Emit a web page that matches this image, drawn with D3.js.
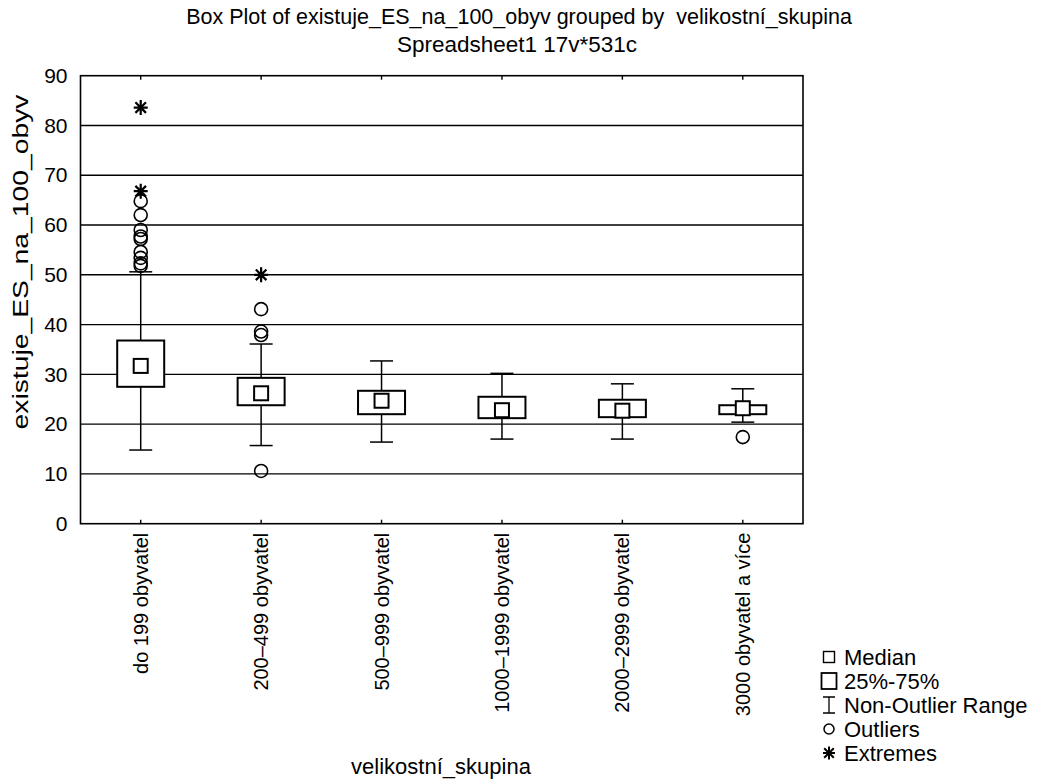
<!DOCTYPE html>
<html><head><meta charset="utf-8">
<script src="https://cdn.jsdelivr.net/npm/d3@7"></script>
<style>body{margin:0;background:#fff}svg{display:block}text{font-family:"Liberation Sans",Arial,sans-serif;fill:#000}</style>
</head><body>
<script>
const categories = ["do 199 obyvatel","200–499 obyvatel","500–999 obyvatel","1000–1999 obyvatel","2000–2999 obyvatel","3000 obyvatel a více"];
const medians = [31.7, 26.2, 24.7, 22.8, 22.7, 23.2];
const q1 = [27.5, 23.8, 22.0, 21.2, 21.4, 22.0];
const q3 = [36.8, 29.3, 26.7, 25.5, 24.9, 23.8];
const whiskerLow = [14.8, 15.7, 16.4, 17.0, 17.0, 20.4];
const whiskerHigh = [50.6, 36.1, 32.7, 30.2, 28.1, 27.1];
const outliers = [[64.8, 62.0, 59.0, 57.7, 57.2, 54.6, 53.4, 52.3, 51.8], [43.1, 38.6, 37.9, 10.6], [], [], [], [17.4]];
const extremes = [[83.6, 66.8], [50.0], [], [], [], []];
const yTicks = [0,10,20,30,40,50,60,70,80,90];
const legendLabels = ["Median","25%-75%","Non-Outlier Range","Outliers","Extremes"];

const W = 1038, H = 780;
const m = {left: 80.5, top: 75.7, right: 803, bottom: 523.7};
const svg = d3.select("body").append("svg").attr("width", W).attr("height", H);

const x = d3.scaleBand().domain(categories).range([m.left, m.right]).paddingInner(0).paddingOuter(0);
const y = d3.scaleLinear().domain([0, 90]).range([m.bottom, m.top]);
const cx = c => x(c) + x.bandwidth()/2;

// grid lines
svg.append("g").selectAll("line").data(yTicks.filter(t => t > 0 && t < 90)).join("line")
  .attr("x1", m.left).attr("x2", m.right).attr("y1", d => y(d)).attr("y2", d => y(d))
  .attr("stroke", "#000").attr("stroke-width", 1.4);

// frame
svg.append("rect").attr("x", m.left).attr("y", m.top).attr("width", m.right - m.left).attr("height", m.bottom - m.top)
  .attr("fill", "none").attr("stroke", "#000").attr("stroke-width", 1.6);

// y axis
const yAxis = svg.append("g").attr("transform", `translate(${m.left},0)`)
  .call(d3.axisLeft(y).tickValues(yTicks).tickSize(0).tickPadding(13));
yAxis.select(".domain").remove();
yAxis.selectAll("text").attr("font-size", 21).attr("font-family", "Liberation Sans, Arial, sans-serif");

// x axis ticks bottom and top
const xb = svg.append("g").attr("transform", `translate(0,${m.bottom})`)
  .call(d3.axisBottom(x).tickSize(-4).tickPadding(10));
xb.select(".domain").remove();
xb.selectAll("line").attr("stroke-width", 1.4);
xb.selectAll("text").attr("font-size", 20).attr("font-family", "Liberation Sans, Arial, sans-serif")
  .attr("transform", "rotate(-90)").attr("text-anchor", "end").attr("dy", "0.35em").attr("x", -9).attr("y", 0);
const xt = svg.append("g").attr("transform", `translate(0,${m.top})`)
  .call(d3.axisTop(x).tickSize(-4).tickFormat(""));
xt.select(".domain").remove();
xt.selectAll("line").attr("stroke-width", 1.4);

// boxes
const data = categories.map((c, i) => ({c, med: medians[i], q1: q1[i], q3: q3[i], lo: whiskerLow[i], hi: whiskerHigh[i], out: outliers[i], ext: extremes[i]}));
const g = svg.append("g");
const boxW = 47, capW = 23, medS = 14;
data.forEach(d => {
  const X = cx(d.c);
  g.append("line").attr("x1", X).attr("x2", X).attr("y1", y(d.hi)).attr("y2", y(d.q3)).attr("stroke", "#000").attr("stroke-width", 1.5);
  g.append("line").attr("x1", X).attr("x2", X).attr("y1", y(d.q1)).attr("y2", y(d.lo)).attr("stroke", "#000").attr("stroke-width", 1.5);
  [d.hi, d.lo].forEach(v => g.append("line").attr("x1", X - capW/2).attr("x2", X + capW/2).attr("y1", y(v)).attr("y2", y(v)).attr("stroke", "#000").attr("stroke-width", 1.5));
  g.append("rect").attr("x", X - boxW/2).attr("y", y(d.q3)).attr("width", boxW).attr("height", y(d.q1) - y(d.q3))
    .attr("fill", "#fff").attr("stroke", "#000").attr("stroke-width", 2);
  g.append("rect").attr("x", X - medS/2).attr("y", y(d.med) - medS/2).attr("width", medS).attr("height", medS)
    .attr("fill", "#fff").attr("stroke", "#000").attr("stroke-width", 2);
  d.out.forEach(v => g.append("circle").attr("cx", X).attr("cy", y(v)).attr("r", 6.5).attr("fill", "none").attr("stroke", "#000").attr("stroke-width", 1.6));
  d.ext.forEach(v => g.append("path").attr("transform", `translate(${X},${y(v)})`)
    .attr("d", "M-7,0H7M0,-7.5V7.5M-5.3,-5.3L5.3,5.3M-5.3,5.3L5.3,-5.3").attr("stroke", "#000").attr("stroke-width", 2.2));
});

// titles
svg.append("text").attr("x", 519).attr("y", 24).attr("text-anchor", "middle").attr("font-size", 21.5)
  .text("Box Plot of existuje_ES_na_100_obyv grouped by  velikostní_skupina").style("white-space", "pre");
svg.append("text").attr("x", 517).attr("y", 52).attr("text-anchor", "middle").attr("font-size", 22.5)
  .text("Spreadsheet1 17v*531c");
svg.append("text").attr("transform", `translate(28,262) rotate(-90)`).attr("text-anchor", "middle").attr("font-size", 22)
  .attr("textLength", 335).attr("lengthAdjust", "spacingAndGlyphs")
  .text("existuje_ES_na_100_obyv");
svg.append("text").attr("x", 441).attr("y", 774).attr("text-anchor", "middle").attr("font-size", 22)
  .text("velikostní_skupina");

// legend
const lg = svg.append("g").attr("transform", "translate(829,0)");
const ly = [657, 681, 705, 729, 753];
legendLabels.forEach((t, i) => lg.append("text").attr("x", 15).attr("y", ly[i]).attr("dy", "0.35em").attr("font-size", 22).text(t));
lg.append("rect").attr("x", -5.5).attr("y", ly[0] - 5.5).attr("width", 11).attr("height", 11).attr("fill", "none").attr("stroke", "#000").attr("stroke-width", 1.4);
lg.append("rect").attr("x", -7.5).attr("y", ly[1] - 8).attr("width", 15).attr("height", 16).attr("fill", "none").attr("stroke", "#000").attr("stroke-width", 1.8);
lg.append("path").attr("d", `M-6,${ly[2]-8}H6M0,${ly[2]-8}V${ly[2]+8}M-6,${ly[2]+8}H6`).attr("stroke", "#000").attr("stroke-width", 1.3).attr("fill", "none");
lg.append("circle").attr("cx", 0).attr("cy", ly[3]).attr("r", 5).attr("fill", "none").attr("stroke", "#000").attr("stroke-width", 1.5);
lg.append("path").attr("transform", `translate(0,${ly[4]})`).attr("d", "M-6,0H6M0,-6.5V6.5M-4.8,-4.8L4.8,4.8M-4.8,4.8L4.8,-4.8").attr("stroke", "#000").attr("stroke-width", 2);
</script>
</body></html>
